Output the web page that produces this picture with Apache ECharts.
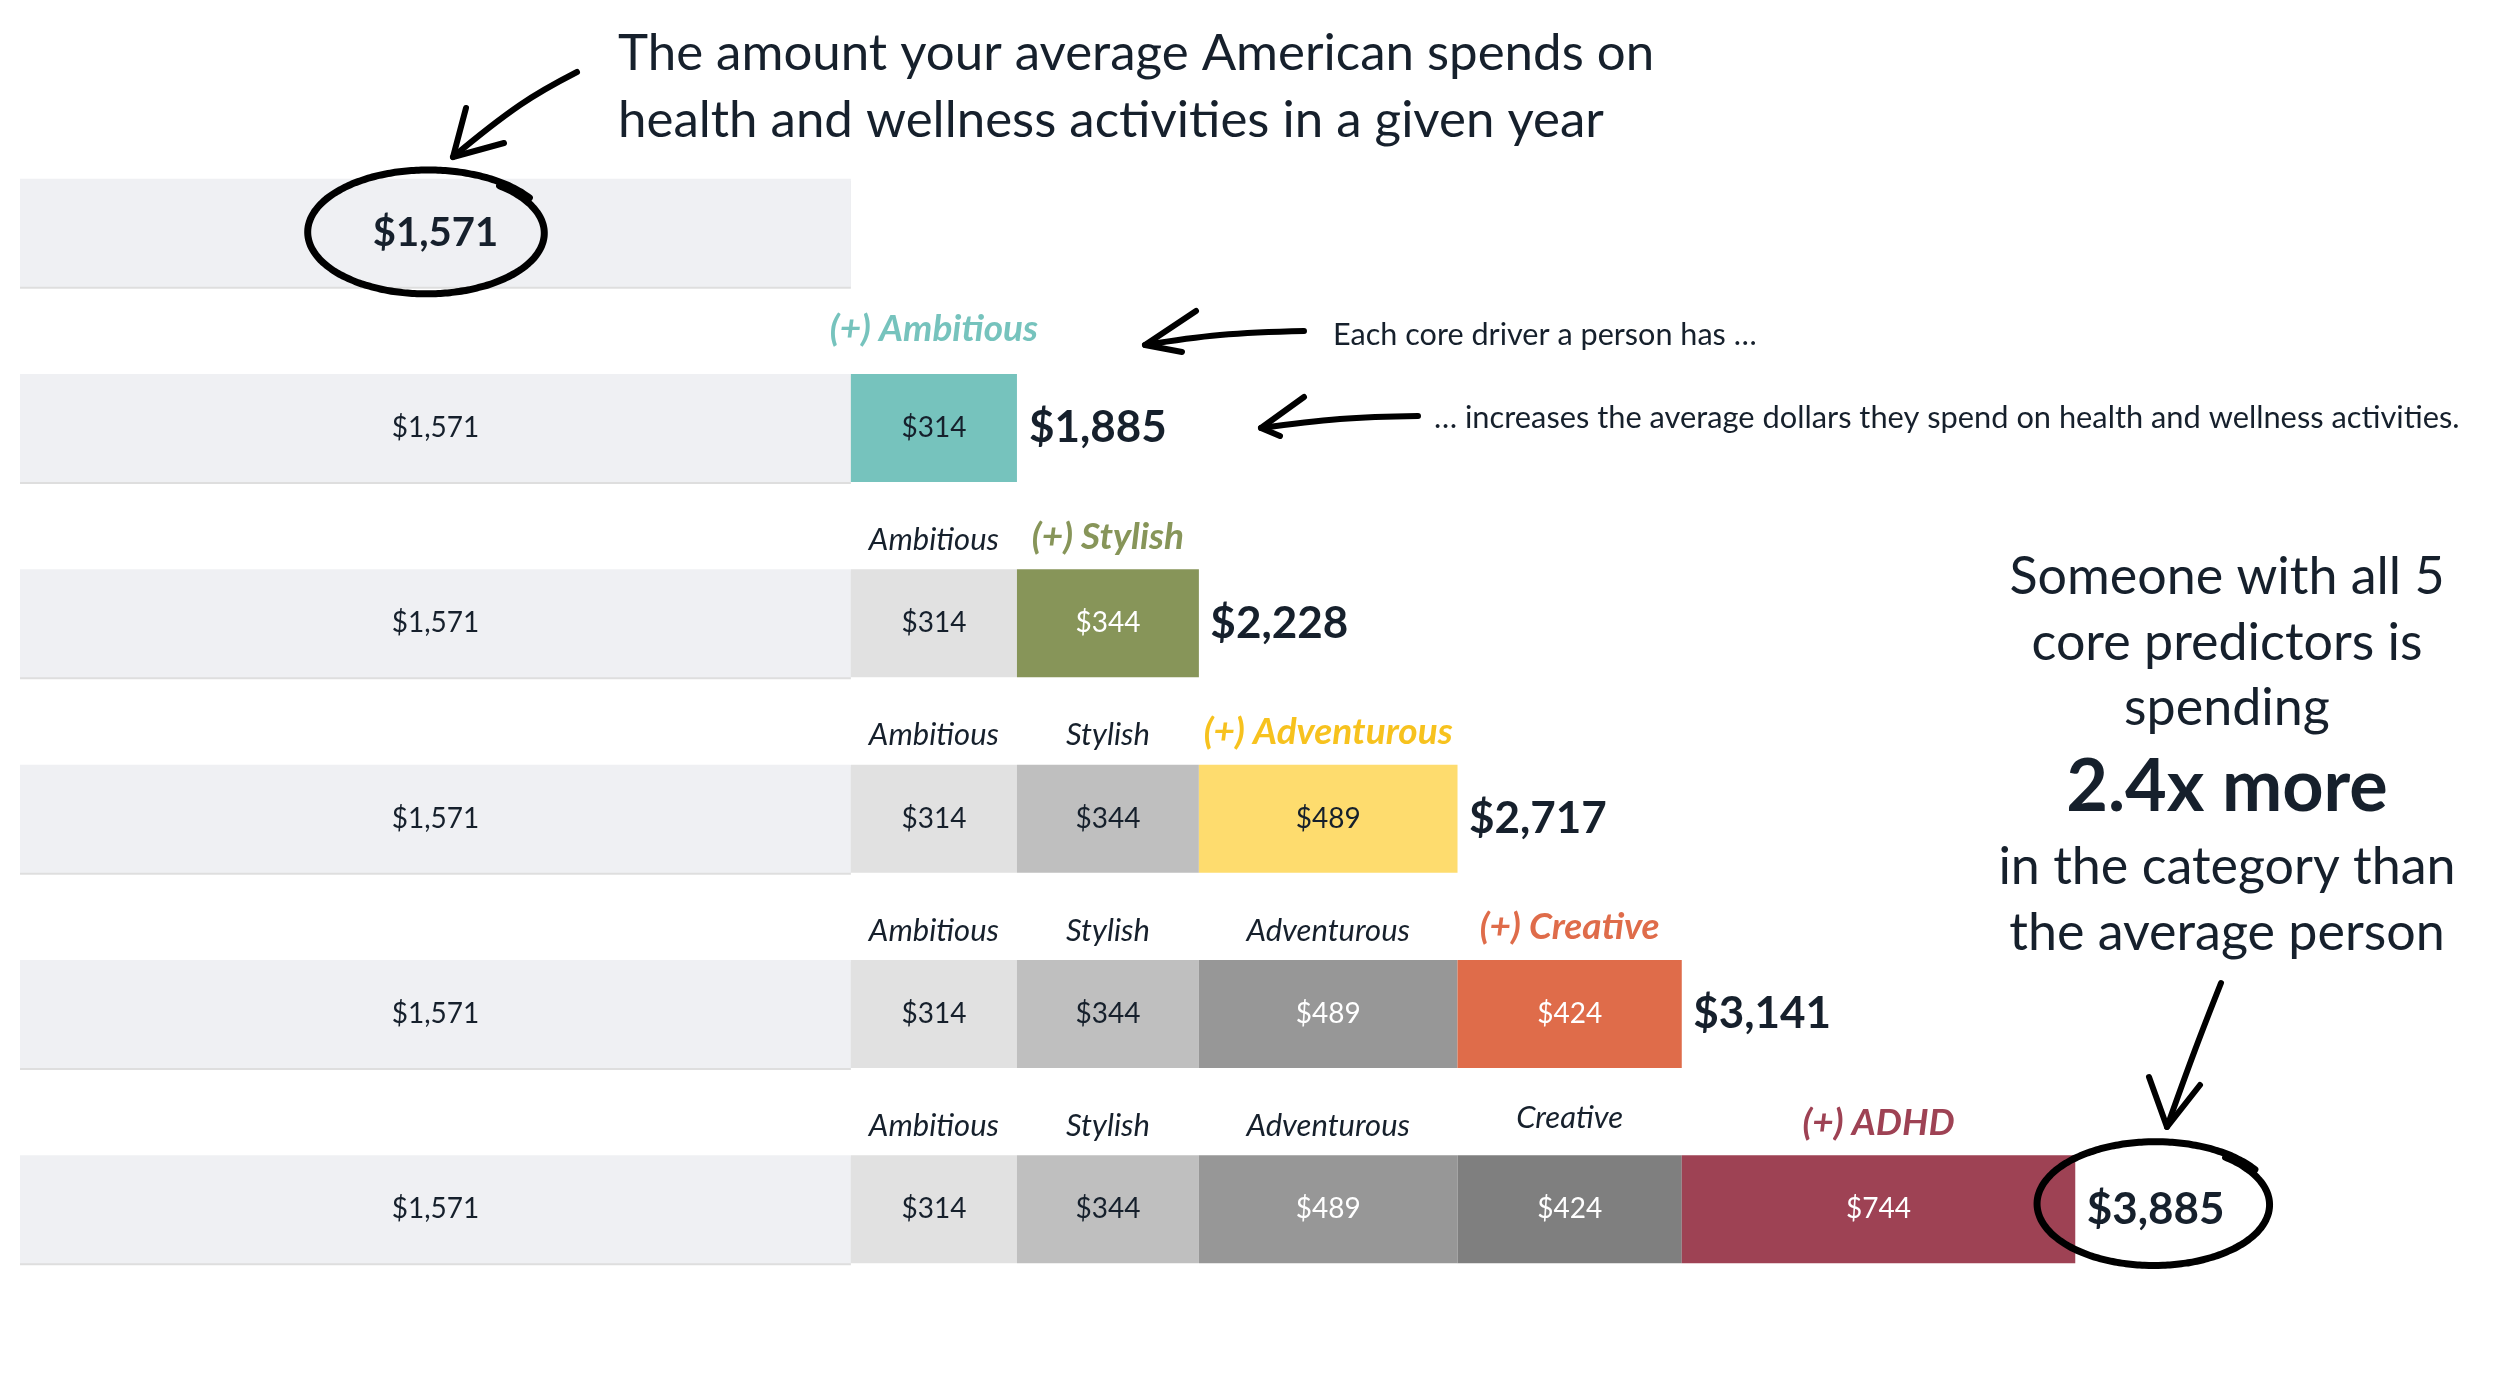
<!DOCTYPE html>
<html><head><meta charset="utf-8">
<script src="https://cdn.jsdelivr.net/npm/echarts@6/dist/echarts.min.js"></script>
<style>html,body{margin:0;padding:0;background:#fff}#c{width:2500px;height:1383px}</style>
</head><body><div id="c"></div>
<script>
// ---------- data ----------
const rows = ['Average', '+ Ambitious', '+ Stylish', '+ Adventurous', '+ Creative', '+ ADHD'];
const drivers = ['Ambitious', 'Stylish', 'Adventurous', 'Creative', 'ADHD'];
const baseSpend      = [1571, 1571, 1571, 1571, 1571, 1571];
const ambitiousAdd   = [null, 314, 314, 314, 314, 314];
const stylishAdd     = [null, null, 344, 344, 344, 344];
const adventurousAdd = [null, null, null, 489, 489, 489];
const creativeAdd    = [null, null, null, null, 424, 424];
const adhdAdd        = [null, null, null, null, null, 744];
const totalSpend     = [1571, 1885, 2228, 2717, 3141, 3885];
const driverValues = [ambitiousAdd, stylishAdd, adventurousAdd, creativeAdd, adhdAdd];

// ---------- styles ----------
const FONT = 'Lato, sans-serif';
const DARK = '#16202c';
const highlightColors = ['#76C3BD', '#879559', '#FEDC6E', '#DF6C4A', '#9E4254'];
const highlightText   = ['#76C3BD', '#879559', '#F7C21E', '#DF6C4A', '#9E4254'];
const highlightValueText = [DARK, '#ffffff', DARK, '#ffffff', '#ffffff'];
const grayColors    = ['#E1E1E1', '#BFBFBF', '#979797', '#7F7F7F', '#6A6A6A'];
const grayValueText = [DARK, DARK, '#ffffff', '#ffffff', '#ffffff'];
const fmt = v => '$' + Number(v).toLocaleString('en-US');
const BAR_W = 108;

const series = [];
// stack a: visible segments
series.push({
  type: 'bar', stack: 'a', barWidth: BAR_W, barGap: '-100%', silent: true,
  itemStyle: { color: '#EFF0F3', shadowColor: 'rgba(0,0,0,0.13)', shadowOffsetY: 2, shadowBlur: 0 },
  label: { show: true, position: 'inside', formatter: p => fmt(p.value), color: DARK, fontSize: 28, fontFamily: FONT },
  data: baseSpend.map((v, i) => i === 0
    ? { value: v, label: { fontSize: 40, fontWeight: 'bold' } }
    : { value: v })
});
drivers.forEach((name, d) => {
  series.push({
    type: 'bar', stack: 'a', barWidth: BAR_W, barGap: '-100%', silent: true, name,
    label: { show: true, position: 'inside', formatter: p => fmt(p.value), fontSize: 28, fontFamily: FONT },
    data: driverValues[d].map((v, i) => {
      if (v == null) return '-';
      const isNew = i === d + 1;
      return {
        value: v,
        itemStyle: { color: isNew ? highlightColors[d] : grayColors[d] },
        label: { color: isNew ? highlightValueText[d] : grayValueText[d] }
      };
    })
  });
});
// stack b: transparent copies carrying the driver names above each segment
series.push({
  type: 'bar', stack: 'b', barWidth: BAR_W, barGap: '-100%', silent: true,
  itemStyle: { color: 'rgba(0,0,0,0)' }, data: baseSpend.slice()
});
drivers.forEach((name, d) => {
  series.push({
    type: 'bar', stack: 'b', barWidth: BAR_W, barGap: '-100%', silent: true,
    itemStyle: { color: 'rgba(0,0,0,0)' },
    label: {
      show: true, position: 'top', distance: 14, fontFamily: FONT,
      formatter: p => (p.dataIndex === d + 1 ? '{hl|(+) ' + name + '}' : '{n|' + name + '}'),
      rich: {
        n: { fontSize: 31, fontStyle: 'italic', color: DARK, fontFamily: FONT },
        hl: { fontSize: 37, fontStyle: 'italic', fontWeight: 'bold', color: highlightText[d], fontFamily: FONT }
      }
    },
    data: driverValues[d].map((v, i) => {
      if (v == null) return '-';
      if (d === 0 && i === 1) return { value: v, label: { distance: 26 } };
      if (d === 3 && i === 5) return { value: v, label: { distance: 22 } };
      return v;
    })
  });
});
// stack c: transparent totals with label at right
series.push({
  type: 'bar', stack: 'c', barWidth: BAR_W, barGap: '-100%', silent: true,
  itemStyle: { color: 'rgba(0,0,0,0)' },
  label: { show: true, position: 'right', distance: 12, fontSize: 44, fontWeight: 'bold', color: DARK, fontFamily: FONT,
           formatter: p => (p.dataIndex === 0 ? '' : fmt(p.value)) },
  data: totalSpend.slice()
});

const option = {
  animation: false,
  backgroundColor: '#ffffff',
  grid: { left: 20, right: 100, top: 135, bottom: 76, containLabel: false },
  xAxis: { type: 'value', min: 0, max: 4500, show: false },
  yAxis: { type: 'category', data: rows, inverse: true, show: false },
  series
};

const chart = echarts.init(document.getElementById('c'), null, { renderer: 'canvas' });
chart.setOption(option);

// ---------- annotations ----------
const px = (x, yi) => chart.convertToPixel({ gridIndex: 0 }, [x, yi]);
function handEllipse(cx, cy, rx, ry) {
  const pts = [];
  const start = -0.9, end = start + Math.PI * 2 + 0.35;
  for (let t = start; t <= end; t += 0.04) {
    const k = 1 + 0.05 * (t - start) / (Math.PI * 2);
    pts.push([cx + rx * k * Math.cos(t), cy + ry * k * Math.sin(t)]);
  }
  return { type: 'polyline', shape: { points: pts, smooth: 0.3 }, style: { stroke: '#000', lineWidth: 7, fill: null, lineCap: 'round' }, z: 100 };
}
function arrow(shaft, head) {
  return [
    { type: 'polyline', shape: { points: shaft, smooth: 0.4 }, style: { stroke: '#000', lineWidth: 6, fill: null, lineCap: 'round', lineJoin: 'round' }, z: 100 },
    { type: 'polyline', shape: { points: head }, style: { stroke: '#000', lineWidth: 6, fill: null, lineCap: 'round', lineJoin: 'round' }, z: 100 }
  ];
}
function txt(text, x, y, size, opts) {
  return Object.assign({ type: 'text', x, y, z: 100, style: Object.assign({ text, fontSize: size, fontFamily: FONT, fill: DARK, align: 'left', verticalAlign: 'middle' }, opts || {}) });
}

const c1 = px(baseSpend[0] / 2, 0);
const e6 = px(totalSpend[5], 5);

const graphic = [];
graphic.push(handEllipse(c1[0] - 8, c1[1], 116, 60));
graphic.push(handEllipse(e6[0] + 80, e6[1] - 5, 114, 60));
graphic.push(...arrow([[577, 72], [520, 105], [453, 157]], [[466, 108], [453, 157], [504, 143]]));
graphic.push(...arrow([[1304, 331], [1220, 335], [1145, 345]], [[1196, 311], [1145, 345], [1182, 352]]));
graphic.push(...arrow([[1418, 416], [1340, 419], [1261, 428]], [[1304, 397], [1261, 428], [1280, 436]]));
graphic.push(...arrow([[2221, 983], [2195, 1050], [2167, 1127]], [[2149, 1077], [2167, 1127], [2200, 1085]]));

graphic.push(txt('The amount your average American spends on', 618, 54, 51));
graphic.push(txt('health and wellness activities in a given year', 618, 121, 51));
graphic.push(txt('Each core driver a person has \u2026', 1333, 335, 30.6));
graphic.push(txt('\u2026 increases the average dollars they spend on health and wellness activities.', 1434, 418, 30.8));

const RX = 2227;
graphic.push(txt('Someone with all 5', RX, 577, 52, { align: 'center' }));
graphic.push(txt('core predictors is', RX, 643, 52, { align: 'center' }));
graphic.push(txt('spending', RX, 708, 52, { align: 'center' }));
graphic.push(txt('2.4x more', RX, 788, 72, { align: 'center', fontWeight: 'bold' }));
graphic.push(txt('in the category than', RX, 867, 52, { align: 'center' }));
graphic.push(txt('the average person', RX, 933, 52, { align: 'center' }));

chart.setOption({ graphic });
</script>
</body></html>
